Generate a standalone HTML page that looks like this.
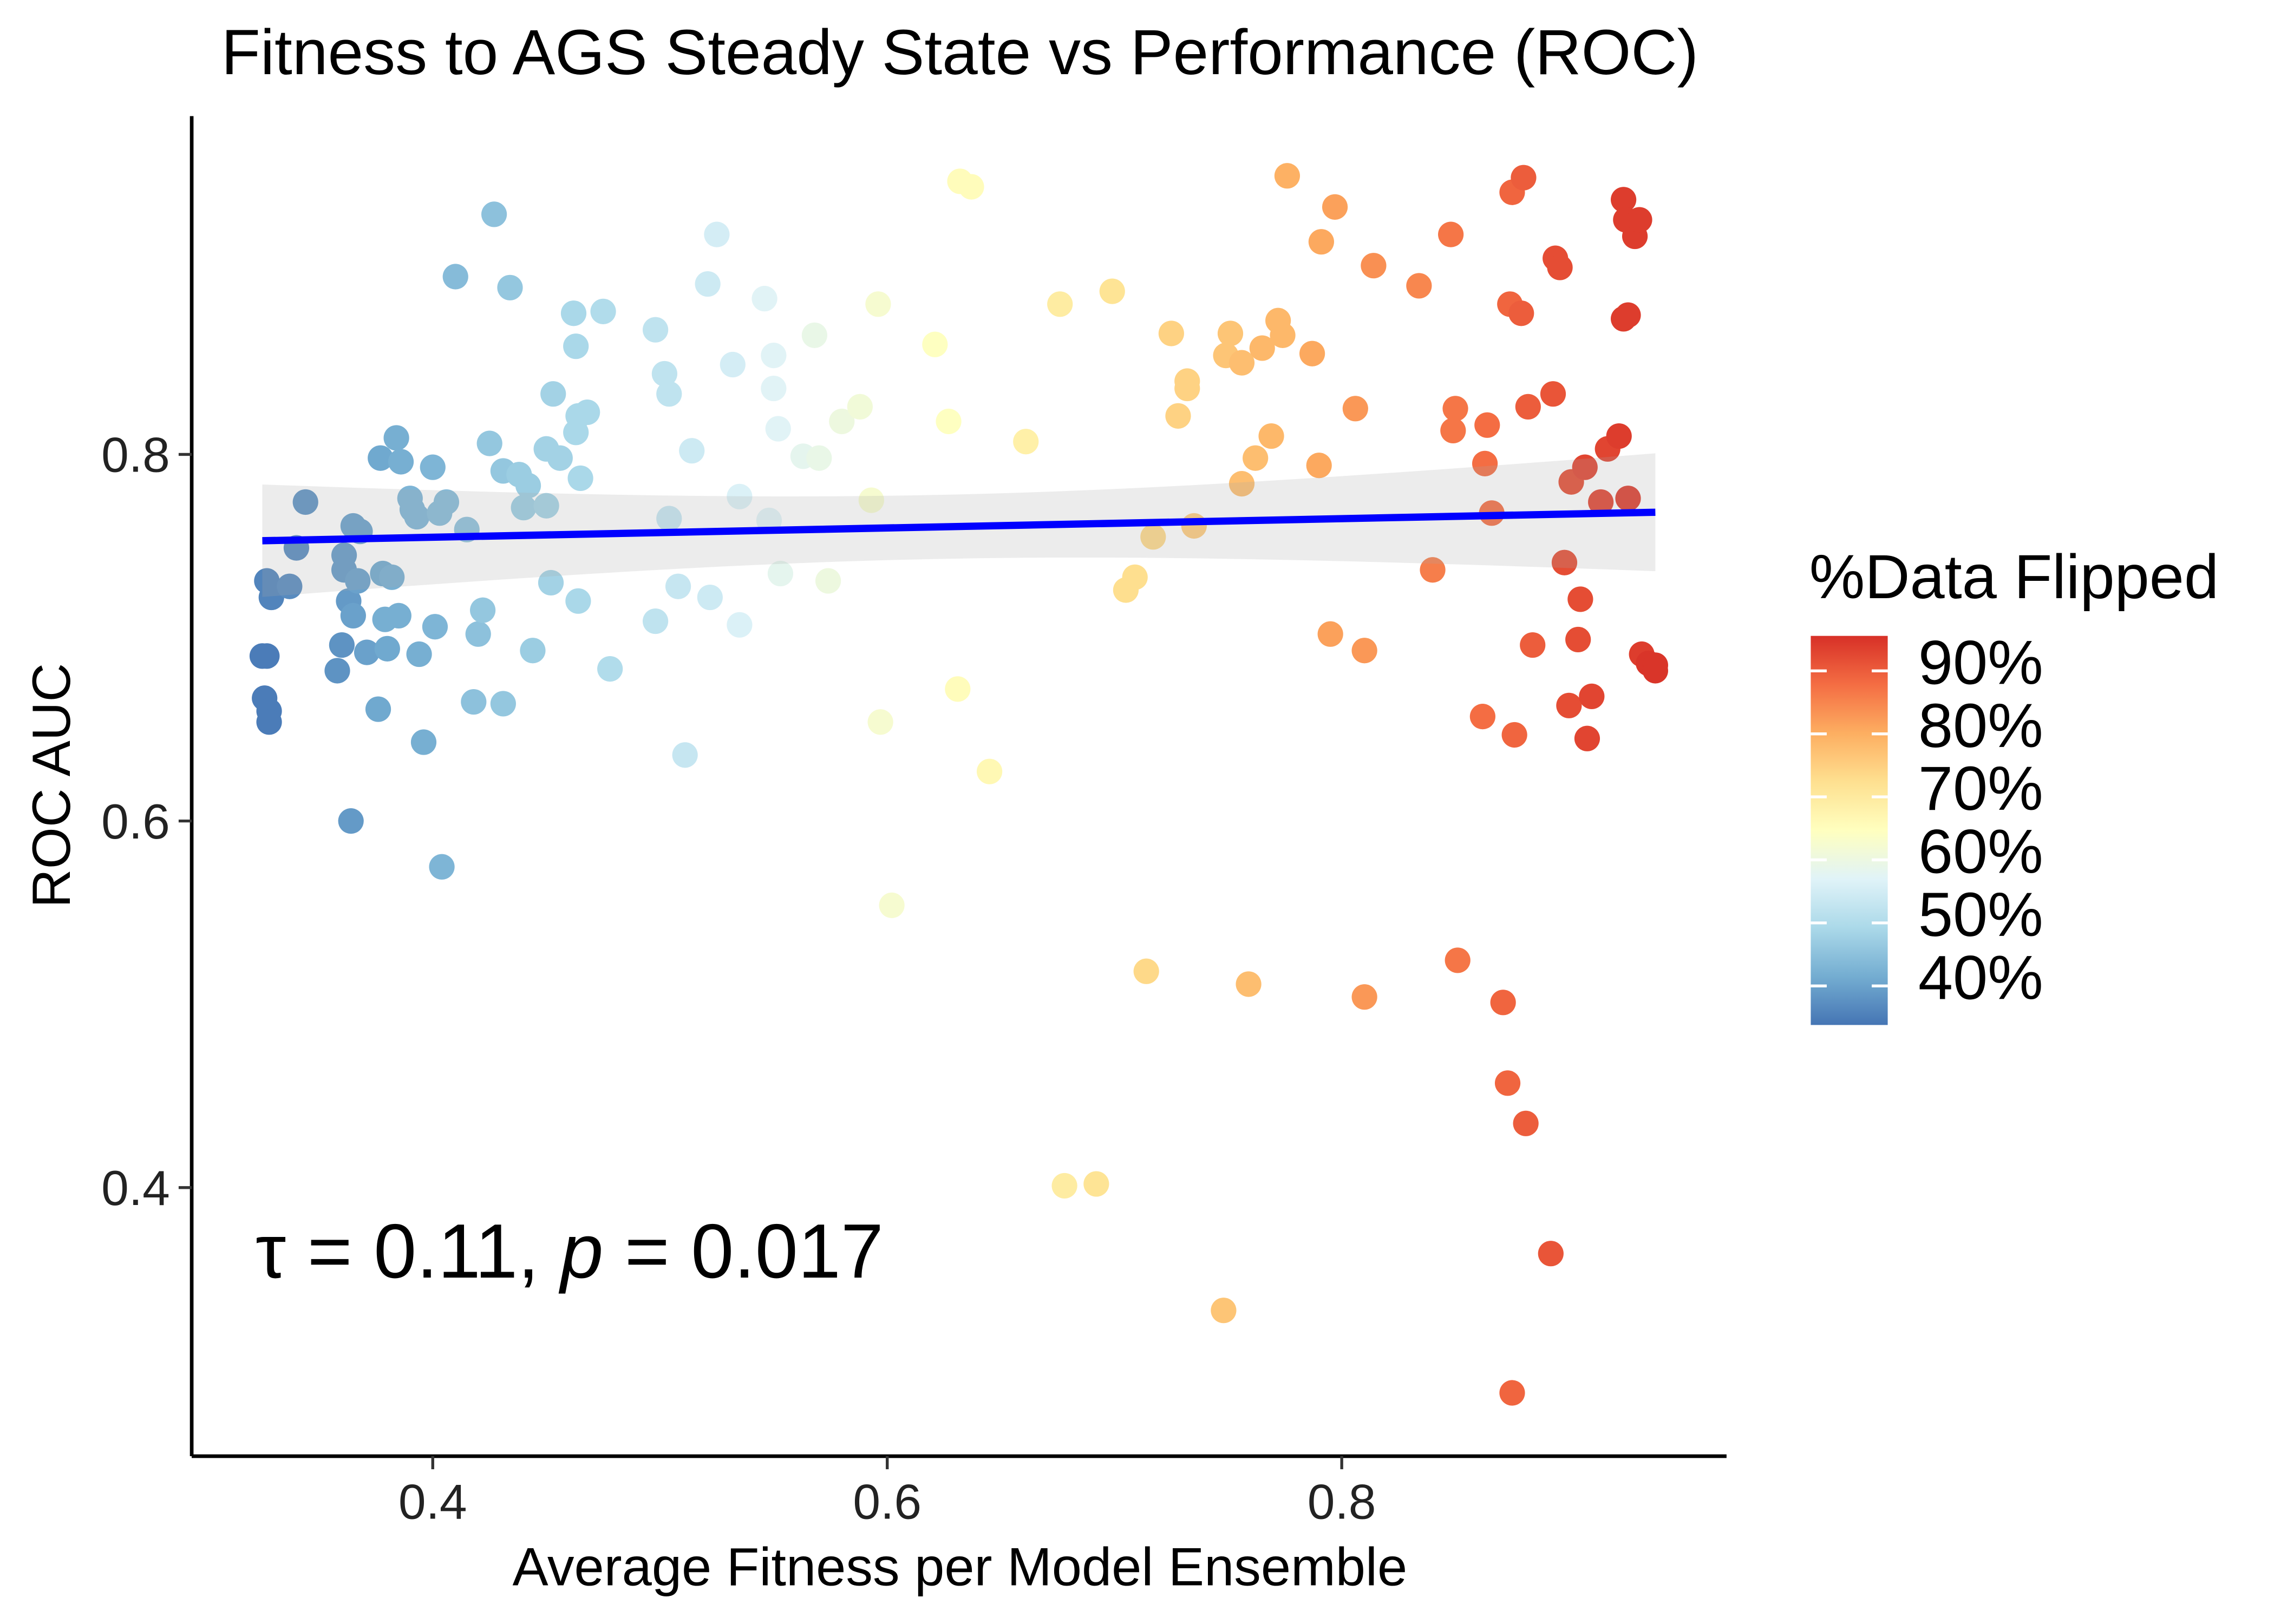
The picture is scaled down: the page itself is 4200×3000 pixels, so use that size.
<!DOCTYPE html>
<html><head><meta charset="utf-8"><style>
html,body{margin:0;padding:0;background:#fff;}
svg{display:block;font-family:"Liberation Sans",Arial,sans-serif;}
</style></head><body>
<svg id="chart" xmlns="http://www.w3.org/2000/svg" width="4200" height="3000" viewBox="0 0 1566 1118.6">
<defs>
<linearGradient id="lg" x1="0" y1="1" x2="0" y2="0">
<stop offset="0" stop-color="#4575b4"/><stop offset="0.125" stop-color="#74add1"/><stop offset="0.25" stop-color="#abd9e9"/><stop offset="0.375" stop-color="#e0f3f8"/><stop offset="0.5" stop-color="#ffffbf"/><stop offset="0.625" stop-color="#fee090"/><stop offset="0.75" stop-color="#fdae61"/><stop offset="0.875" stop-color="#f46d43"/><stop offset="1" stop-color="#d73027"/>
</linearGradient>
</defs>
<text x="661" y="51" font-size="44" text-anchor="middle">Fitness to AGS Steady State vs Performance (ROC)</text>
<g id="points"></g>
<g id="fit"></g>
<g id="axes"></g>
<text x="176" y="880" font-size="53">τ = 0.11, <tspan font-style="italic">p</tspan> = 0.017</text>
<text x="661" y="1092" font-size="37" text-anchor="middle">Average Fitness per Model Ensemble</text>
<text transform="translate(48,541) rotate(-90)" font-size="37" text-anchor="middle">ROC AUC</text>
<g>
<text x="1246" y="412" font-size="43">%Data Flipped</text>
<rect x="1247" y="438" width="53" height="268" fill="url(#lg)"/>
<g id="legticks"></g>
</g>
</svg>
<script>
const xs=[.325,.327,.326,.328,.328,.327,.329,.337,.340,.344,
.358,.360,.361,.361,.365,.368,.364,.363,.365,.367,
.371,.376,.377,.378,.379,.380,.382,.384,.386,.385,
.390,.391,.393,.394,.396,.400,.401,.403,.406,.404,
.410,.415,.418,.420,.422,.425,.427,.431,.431,.434,
.438,.440,.442,.444,.450,.450,.452,.453,.456,.462,
.463,.463,.464,.464,.465,.468,.475,.478,
.498,.498,.502,.504,.504,.508,.511,.514,.521,.522,
.525,.532,.535,.535,.546,.548,.550,.550,.552,.553,
.563,.568,.570,.574,.580,.588,.593,.597,.596,.602,
.621,.627,.631,.632,.637,.645,.661,.676,.678,.692,
.699,.705,.709,.714,.717,.725,.728,.732,.732,.735,
.748,.749,.751,.756,.756,.759,.762,.765,.769,.772,
.774,.776,.787,.790,.791,.795,.797,.806,.810,.810,
.814,.834,.840,.848,.850,.849,.851,.862,.863,.864,
.866,.871,.873,.874,.875,.876,.879,.880,.881,.882,
.884,.875,.892,.893,.894,.896,.898,.900,.901,.904,
.905,.907,.908,.910,.914,.917,.922,.924,.924,.925,
.926,.926,.929,.931,.932,.935,.938,.938];
const ys=[.690,.690,.667,.660,.654,.731,.722,.728,.749,.774,
.682,.696,.745,.737,.761,.758,.600,.720,.712,.731,
.692,.661,.798,.735,.710,.694,.733,.809,.796,.712,
.776,.770,.766,.691,.643,.793,.706,.768,.774,.575,
.897,.759,.665,.702,.715,.806,.931,.791,.664,.891,
.789,.771,.783,.693,.772,.803,.730,.833,.798,.877,
.859,.812,.821,.720,.787,.823,.878,.683,
.868,.709,.844,.833,.765,.728,.636,.802,.893,.722,
.920,.849,.777,.707,.885,.764,.854,.836,.814,.735,
.799,.865,.798,.731,.818,.826,.775,.654,.882,.554,
.860,.818,.672,.949,.946,.627,.807,.882,.401,.402,
.889,.726,.733,.518,.755,.866,.821,.840,.836,.761,
.333,.854,.866,.784,.850,.511,.798,.858,.810,.873,
.865,.952,.855,.794,.916,.702,.935,.825,.693,.504,
.903,.892,.737,.920,.825,.813,.524,.657,.795,.816,
.768,.501,.457,.882,.943,.647,.877,.951,.435,.826,
.696,.288,.364,.833,.907,.902,.741,.663,.785,.699,
.721,.793,.645,.668,.774,.803,.810,.874,.939,.928,
.876,.776,.919,.928,.691,.686,.685,.682];
const flips=[35,35,35,35,35,36,36,37,37,38,
38,38,39,39,40,40,39,39,40,40,
40,41,41,41,42,41,42,42,42,42,
43,43,43,42,42,43,43,44,44,43,
44,45,45,45,46,46,45,46,46,46,
47,47,47,47,48,48,48,48,48,49,
49,49,49,49,49,49,50,50,
52,52,52,52,53,53,53,54,54,54,
55,55,56,56,57,57,57,57,57,58,
58,59,59,60,60,61,62,62,62,62,
64,64,65,65,65,66,68,69,69,71,
71,72,72,73,73,74,74,74,74,75,
76,76,76,77,77,77,77,78,78,78,
78,79,80,80,80,81,81,82,82,82,
83,84,85,86,86,86,86,87,87,87,
87,88,88,88,88,88,89,89,89,89,
89,88,90,90,91,91,91,91,91,91,
91,92,92,92,92,92,93,93,93,93,
93,93,93,93,93,94,94,94];
const xTicks=[0.4,0.6,0.8];
const yTicks=[0.4,0.6,0.8];
const legTicks=[40,50,60,70,80,90];

const NS="http://www.w3.org/2000/svg";
const X=v=>298+(v-0.4)*1565;
const Y=v=>313-(v-0.8)*1262.5;
const stops=["#4575b4","#74add1","#abd9e9","#e0f3f8","#ffffbf","#fee090","#fdae61","#f46d43","#d73027"];
const fmin=34,fmax=94.6;
function hex(h){return [1,3,5].map(i=>parseInt(h.substr(i,2),16));}
function col(f){let t=Math.max(0,Math.min(1,(f-fmin)/(fmax-fmin)))*(stops.length-1);let i=Math.min(stops.length-2,Math.floor(t));let u=t-i;let a=hex(stops[i]),b=hex(stops[i+1]);return "rgb("+a.map((c,k)=>Math.round(c+(b[k]-c)*u)).join(",")+")";}
function mk(tag,attrs,parent){const e=document.createElementNS(NS,tag);for(const k in attrs)e.setAttribute(k,attrs[k]);parent.appendChild(e);return e;}

const pg=document.getElementById('points');
const n=Math.min(xs.length,ys.length,flips.length);
for(let i=0;i<n;i++){
 const c=mk('circle',{cx:X(xs[i]),cy:Y(ys[i]),r:8.8,fill:col(flips[i])},pg);
 
 
}
let mx=0,my=0;for(let i=0;i<n;i++){mx+=xs[i];my+=ys[i];}mx/=n;my/=n;
let sxx=0,sxy=0;for(let i=0;i<n;i++){sxx+=(xs[i]-mx)**2;sxy+=(xs[i]-mx)*(ys[i]-my);}
const b=sxy/sxx,a=my-b*mx;let sse=0;for(let i=0;i<n;i++)sse+=(ys[i]-a-b*xs[i])**2;
const s=Math.sqrt(sse/(n-2));
let xmin=Math.min(...xs),xmax=Math.max(...xs);
const fg=document.getElementById('fit');
let up=[],lo=[];
for(let k=0;k<=60;k++){const x=xmin+(xmax-xmin)*k/60;const se=1.97*s*Math.sqrt(1/n+(x-mx)**2/sxx);const yh=a+b*x;up.push(X(x)+","+Y(yh+se));lo.unshift(X(x)+","+Y(yh-se));}
const rib=mk('polygon',{points:up.concat(lo).join(" "),fill:"#aaaaaa","fill-opacity":0.22},fg);


const ln=mk('line',{x1:X(xmin),y1:Y(a+b*xmin),x2:X(xmax),y2:Y(a+b*xmax),stroke:"#0000ff","stroke-width":5},fg);



const ax=document.getElementById('axes');
const xl=mk('line',{x1:132,y1:1003,x2:1189,y2:1003,stroke:"#000","stroke-width":2.5},ax);


const yl=mk('line',{x1:132,y1:80,x2:132,y2:1003,stroke:"#000","stroke-width":2.5},ax);


xTicks.forEach(v=>{
 const t=mk('line',{x1:X(v),y1:1003,x2:X(v),y2:1012,stroke:"#333","stroke-width":2},ax);
 
 
 const l=mk('text',{x:X(v),y:1046,"font-size":34,"text-anchor":"middle",fill:"#222"},ax);l.textContent=v.toFixed(1);
 
 
});
yTicks.forEach(v=>{
 const t=mk('line',{x1:123,y1:Y(v),x2:132,y2:Y(v),stroke:"#333","stroke-width":2},ax);
 
 
 const l=mk('text',{x:117,y:Y(v)+12,"font-size":34,"text-anchor":"end",fill:"#222"},ax);l.textContent=v.toFixed(1);
 
 
});
const lt=document.getElementById('legticks');
legTicks.forEach(v=>{
 const y=706-(v-33.8)/10*43.4;
 mk('line',{x1:1247,y1:y,x2:1258,y2:y,stroke:"#fff","stroke-width":2},lt);
 mk('line',{x1:1289,y1:y,x2:1300,y2:y,stroke:"#fff","stroke-width":2},lt);
 const l=mk('text',{x:1321,y:y+9,"font-size":43},lt);l.textContent=v+"%";
 
 
});
</script>
</body></html>
